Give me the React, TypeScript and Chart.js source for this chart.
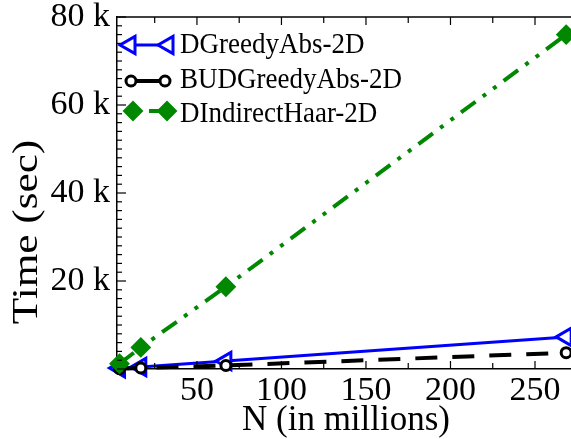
import React, { useEffect, useRef } from "react";
import { Chart, registerables } from "chart.js";
Chart.register(...registerables);

const nValues = [4.19, 16.78, 67.11, 268.44];
const dGreedyAbs = [200, 450, 1800, 7300];
const budGreedyAbs = [80, 250, 800, 3700];
const dIndirectHaar = [1200, 4900, 18700, 76000];
const xTickValues = [50, 100, 150, 200, 250];
const yTickValues = [20000, 40000, 60000, 80000];
const seriesNames = ["DGreedyAbs-2D", "BUDGreedyAbs-2D", "DIndirectHaar-2D"];

const BLUE = "#0000ff";
const BLACK = "#000000";
const GREEN = "rgb(0,136,0)";
const GREEN_DASH = [18, 9, 4, 9, 4, 9];
const BLACK_DASH = [22, 15];
const FONT = "'Liberation Serif', 'DejaVu Serif', serif";

function drawMarker(ctx: CanvasRenderingContext2D, kind: string, x: number, y: number) {
  ctx.save();
  ctx.setLineDash([]);
  ctx.beginPath();
  if (kind === "tri") {
    const r = 10;
    ctx.moveTo(x - r, y);
    ctx.lineTo(x + r / 2, y - (r * Math.sqrt(3)) / 2);
    ctx.lineTo(x + r / 2, y + (r * Math.sqrt(3)) / 2);
    ctx.closePath();
    ctx.fillStyle = "#fff";
    ctx.fill();
    ctx.lineWidth = 3;
    ctx.strokeStyle = BLUE;
    ctx.stroke();
  } else if (kind === "circle") {
    ctx.arc(x, y, 5, 0, Math.PI * 2);
    ctx.fillStyle = "#fff";
    ctx.fill();
    ctx.lineWidth = 3;
    ctx.strokeStyle = BLACK;
    ctx.stroke();
  } else {
    const r = 9;
    ctx.moveTo(x - r, y);
    ctx.lineTo(x, y - r);
    ctx.lineTo(x + r, y);
    ctx.lineTo(x, y + r);
    ctx.closePath();
    ctx.fillStyle = GREEN;
    ctx.fill();
    ctx.lineWidth = 2;
    ctx.strokeStyle = GREEN;
    ctx.stroke();
  }
  ctx.restore();
}

const framePlugin = {
  id: "frameLegend",
  afterDraw(chart: any) {
    const ctx: CanvasRenderingContext2D = chart.ctx;
    const { left, right, top, bottom } = chart.chartArea;
    const xs = chart.scales.x;
    const ys = chart.scales.y;
    ctx.save();
    ctx.strokeStyle = "#000";
    ctx.lineWidth = 1.5;
    ctx.beginPath();
    ctx.moveTo(left, top);
    ctx.lineTo(right, top);
    ctx.stroke();
    ctx.lineWidth = 1.2;
    for (let v = 0; v <= 80000; v += 2000) {
      const p = ys.getPixelForValue(v);
      const len = v % 20000 === 0 ? 9 : 5;
      ctx.beginPath();
      ctx.moveTo(left, p);
      ctx.lineTo(left + len, p);
      ctx.stroke();
    }
    for (let v = 25; v <= 275; v += 25) {
      const p = xs.getPixelForValue(v);
      if (p < left || p > right) continue;
      const len = v % 50 === 0 ? 8 : 6;
      ctx.beginPath();
      ctx.moveTo(p, bottom);
      ctx.lineTo(p, bottom - len);
      ctx.moveTo(p, top);
      ctx.lineTo(p, top + len);
      ctx.stroke();
    }
    ctx.fillStyle = "#000";
    ctx.font = `35px ${FONT}`;
    ctx.textAlign = "center";
    ctx.textBaseline = "middle";
    ctx.fillText("N (in millions)", 346, 421);
    ctx.save();
    ctx.translate(28, 232);
    ctx.rotate(-Math.PI / 2);
    ctx.scale(1.2, 1);
    ctx.font = `36px ${FONT}`;
    ctx.fillText("Time (sec)", 0, 0);
    ctx.restore();

    const entries = [
      { name: seriesNames[0], kind: "tri", color: BLUE, width: 3, y: 45, x1: 120, x2: 173, m1: 130, m2: 168, ty: 53 },
      { name: seriesNames[1], kind: "circle", color: BLACK, width: 4, y: 81, x1: 131, x2: 165, m1: 131, m2: 165, ty: 88 },
      { name: seriesNames[2], kind: "diamond", color: GREEN, width: 4, y: 111, x1: 149, x2: 167, m1: 133, m2: 167, ty: 122 },
    ];
    for (const e of entries) {
      ctx.save();
      ctx.strokeStyle = e.color;
      ctx.lineWidth = e.width;
      ctx.beginPath();
      ctx.moveTo(e.x1, e.y);
      ctx.lineTo(e.x2, e.y);
      ctx.stroke();
      ctx.restore();
      drawMarker(ctx, e.kind, e.m1, e.y);
      drawMarker(ctx, e.kind, e.m2, e.y);
      ctx.save();
      ctx.fillStyle = "#000";
      ctx.font = `27px ${FONT}`;
      ctx.textAlign = "left";
      ctx.textBaseline = "alphabetic";
      ctx.translate(180, e.ty);
      ctx.scale(1, 1.1);
      ctx.fillText(e.name, 0, 0);
      ctx.restore();
    }
    ctx.restore();
  },
};

export default function App() {
  const ref = useRef<HTMLCanvasElement | null>(null);
  useEffect(() => {
    document.body.style.margin = "0";
    if (!ref.current) return;
    const mk = (arr: number[]) => nValues.map((x, i) => ({ x, y: arr[i] }));
    const chart = new Chart(ref.current, {
      type: "line",
      data: {
        datasets: [
          {
            label: seriesNames[0],
            data: mk(dGreedyAbs),
            borderColor: BLUE,
            borderWidth: 3,
            pointStyle: "triangle",
            rotation: -90,
            pointRadius: 10,
            pointBackgroundColor: "#fff",
            pointBorderColor: BLUE,
            pointBorderWidth: 3,
            order: 3,
            clip: false,
          },
          {
            label: seriesNames[1],
            data: mk(budGreedyAbs),
            borderColor: BLACK,
            borderWidth: 4,
            borderDash: BLACK_DASH,
            pointStyle: "circle",
            pointRadius: 5,
            pointBackgroundColor: "#fff",
            pointBorderColor: BLACK,
            pointBorderWidth: 3,
            order: 2,
            clip: false,
          },
          {
            label: seriesNames[2],
            data: mk(dIndirectHaar),
            borderColor: GREEN,
            borderWidth: 4,
            borderDash: GREEN_DASH,
            pointStyle: "rectRot",
            pointRadius: 9,
            pointBackgroundColor: GREEN,
            pointBorderColor: GREEN,
            pointBorderWidth: 2,
            order: 1,
            clip: false,
          },
        ] as any,
      },
      options: {
        animation: false,
        responsive: false,
        maintainAspectRatio: false,
        layout: { autoPadding: false, padding: { top: 17, right: 0, left: 0, bottom: 0 } },
        plugins: { legend: { display: false }, tooltip: { enabled: false } },
        scales: {
          x: {
            type: "linear",
            min: 2.7,
            max: 271.3,
            grid: { display: false, drawTicks: false },
            border: { display: true, color: "#000", width: 1.5 },
            afterBuildTicks: (s: any) => {
              s.ticks = xTickValues.map((v) => ({ value: v }));
            },
            afterFit: (s: any) => {
              s.height = 70;
              s.paddingLeft = 0;
              s.paddingRight = 0;
            },
            ticks: {
              color: "#000",
              font: { family: FONT, size: 34 },
              padding: 2,
              maxRotation: 0,
              autoSkip: false,
            },
          },
          y: {
            type: "linear",
            min: 0,
            max: 80000,
            grid: { display: false, drawTicks: false },
            border: { display: true, color: "#000", width: 1.5 },
            afterBuildTicks: (s: any) => {
              s.ticks = yTickValues.map((v) => ({ value: v }));
            },
            afterFit: (s: any) => {
              s.width = 117;
              s.paddingTop = 0;
              s.paddingBottom = 0;
            },
            ticks: {
              color: "#000",
              font: { family: FONT, size: 34 },
              padding: 7,
              autoSkip: false,
              callback: (v: any) => `${Math.round(Number(v) / 1000)} k`,
            },
          },
        },
      },
      plugins: [framePlugin],
    });
    return () => chart.destroy();
  }, []);
  return (
    <div style={{ width: 571, height: 439 }}>
      <canvas ref={ref} width={571} height={439} style={{ display: "block" }} />
    </div>
  );
}
